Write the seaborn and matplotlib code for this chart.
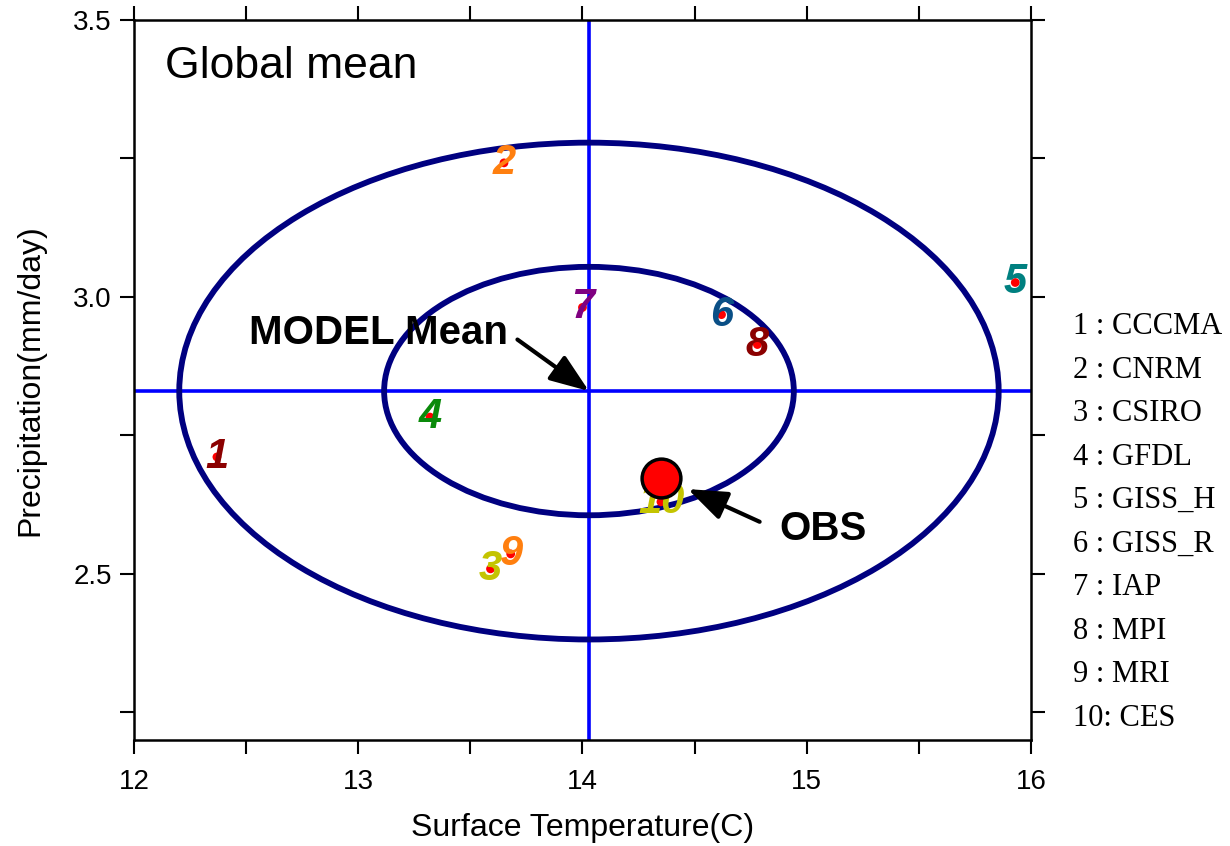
import numpy as np
import pandas as pd
import seaborn as sns
import matplotlib.pyplot as plt
from matplotlib.patches import Ellipse

# model values
model_ids = [1, 2, 3, 4, 5, 6, 7, 8, 9, 10]
model_names = ['CCCMA', 'CNRM', 'CSIRO', 'GFDL', 'GISS_H', 'GISS_R', 'IAP', 'MPI', 'MRI', 'CES']
temperature = [12.37, 13.65, 13.59, 13.32, 15.93, 14.62, 14.00, 14.78, 13.68, 14.35]
precipitation = [2.711, 3.242, 2.509, 2.783, 3.026, 2.968, 2.981, 2.914, 2.536, 2.630]
label_colors = ['#8b0000', '#ff7f0f', '#c4c400', '#0a8a0a', '#008080',
                '#0a4f86', '#800080', '#8b0000', '#ff7f0f', '#c4c400']

obs_temperature = [14.35]
obs_precipitation = [2.673]

x_ticks = [12, 12.5, 13, 13.5, 14, 14.5, 15, 15.5, 16]
y_ticks = [2.25, 2.5, 2.75, 3.0, 3.25, 3.5]

df = pd.DataFrame({'id': model_ids, 'name': model_names,
                   'temp': temperature, 'prcp': precipitation})
obs = pd.DataFrame({'temp': obs_temperature, 'prcp': obs_precipitation})

sns.set_theme(style='ticks')
plt.rcParams['font.family'] = ['Liberation Sans', 'DejaVu Sans']
plt.rcParams['text.color'] = 'black'
plt.rcParams['axes.labelcolor'] = 'black'

fig = plt.figure(figsize=(12.3, 8.46), dpi=100)
ax = fig.add_axes([0.1089, 0.1253, 0.7293, 0.8511])

# ensemble mean and spread (1 and 2 std ellipses)
mx, my = df['temp'].mean(), df['prcp'].mean()
sx, sy = df['temp'].std(ddof=0), df['prcp'].std(ddof=0)
for k in (1, 2):
    ax.add_patch(Ellipse((mx, my), 2 * k * sx, 2 * k * sy, fill=False,
                         edgecolor='#000080', linewidth=4.2, zorder=2))
ax.axvline(mx, color='#0000ff', linewidth=2.6, zorder=1)
ax.axhline(my, color='#0000ff', linewidth=2.6, zorder=1)

# model points: small red dot + coloured number
sns.scatterplot(data=df, x='temp', y='prcp', color='red', s=40,
                edgecolor='none', ax=ax, zorder=3, legend=False)
for _, row in df.iterrows():
    ax.text(row['temp'], row['prcp'], str(row['id']),
            color=label_colors[row['id'] - 1], fontsize=30,
            fontweight='heavy', fontstyle='italic',
            ha='center', va='center', zorder=4)

# observation
sns.scatterplot(data=obs, x='temp', y='prcp', color='red', s=780,
                edgecolor='black', linewidth=2.5, ax=ax, zorder=5, legend=False)

arrow = dict(arrowstyle='-|>,head_length=0.8,head_width=0.3', mutation_scale=30,
             color='black', lw=3, shrinkA=0, shrinkB=0)
ax.text(13.67, 2.935, 'MODEL Mean', fontsize=29, fontweight='bold',
        ha='right', va='center')
ax.annotate('', xy=(mx, my), xytext=(13.71, 2.923), arrowprops=arrow)
ax.text(14.88, 2.581, 'OBS', fontsize=29, fontweight='bold',
        ha='left', va='center')
ax.annotate('', xy=(14.47, 2.653), xytext=(14.79, 2.594), arrowprops=arrow)

ax.text(0.035, 0.935, 'Global mean', transform=ax.transAxes,
        fontsize=32, ha='left', va='center')

ax.set_xlim(12, 16)
ax.set_ylim(2.2, 3.5)
ax.set_xticks(x_ticks)
ax.set_xticklabels([f'{t:g}' if float(t).is_integer() else '' for t in x_ticks])
ax.set_yticks(y_ticks)
ax.set_yticklabels([f'{t:.1f}' if (t * 2).is_integer() else '' for t in y_ticks])
ax.tick_params(axis='both', direction='out', length=10, width=1.5,
               labelsize=20, top=True, right=True, colors='black')
ax.tick_params(axis='x', pad=11)
ax.tick_params(axis='y', pad=6)
for sp in ax.spines.values():
    sp.set_linewidth(1.8)
    sp.set_color('black')

ax.set_xlabel('Surface Temperature(C)', fontsize=23, labelpad=13)
ax.set_ylabel('Precipitation(mm/day)', fontsize=23, labelpad=20)

# model key on the right
for i, (mid, name) in enumerate(zip(model_ids, model_names)):
    sep = ' : ' if mid < 10 else ': '
    ax.text(1.047, 0.574 - i * 0.0604, f'{mid}{sep}{name}',
            transform=ax.transAxes, fontsize=22, ha='left', va='center',
            family=['Liberation Serif', 'DejaVu Serif'])

fig.savefig('out.png', dpi=100)
